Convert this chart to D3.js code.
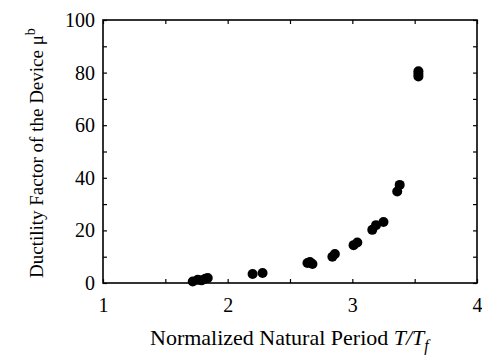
<!DOCTYPE html>
<html>
<head>
<meta charset="utf-8">
<script src="https://cdn.jsdelivr.net/npm/d3@7"></script>
<style>
body { margin: 0; background: #fff; }
svg text { font-family: "Liberation Serif", "Times New Roman", Times, Tinos, "DejaVu Serif", serif; fill: #000; }
</style>
</head>
<body>
<svg></svg>
<script>
// normalized period T/Tf and ductility factor of the device
const periods = [1.72, 1.76, 1.79, 1.82, 1.84, 2.20, 2.28, 2.64, 2.66, 2.68, 2.84, 2.86, 3.01, 3.04, 3.16, 3.19, 3.25, 3.36, 3.38, 3.53, 3.53, 3.53]
const ductility = [0.6, 1.2, 1.0, 1.6, 1.9, 3.4, 3.8, 7.6, 8.0, 7.2, 10.0, 11.0, 14.4, 15.4, 20.2, 22.0, 23.2, 34.8, 37.3, 80.5, 79.5, 78.5]

const xTicks = [1, 1.5, 2, 2.5, 3, 3.5, 4]
const yTicks = [0, 10, 20, 30, 40, 50, 60, 70, 80, 90, 100]

const serif = "'Liberation Serif', 'Times New Roman', Times, Tinos, 'DejaVu Serif', serif"

const svg = d3.select("svg")
svg
	.attr("width", 482)
	.attr("height", 358)

const plotL = 103, plotR = 477, plotT = 20, plotB = 283

const scaleX = d3.scaleLinear()
	.domain([1, 4])
	.range([plotL, plotR])

const scaleY = d3.scaleLinear()
	.domain([0, 100])
	.range([plotB, plotT])

// ticks point inward on all four sides
const xLabel = d => Number.isInteger(d) ? d : ""
const yLabel = d => d % 20 === 0 ? d : ""

const axes = [
	{ axis: d3.axisBottom(scaleX).tickValues(xTicks).tickFormat(xLabel).tickSize(-4).tickPadding(15), at: `translate(0,${plotB})` },
	{ axis: d3.axisTop(scaleX).tickValues(xTicks).tickFormat("").tickSize(-4), at: `translate(0,${plotT})` },
	{ axis: d3.axisLeft(scaleY).tickValues(yTicks).tickFormat(yLabel).tickSize(-4).tickPadding(8), at: `translate(${plotL},0)` },
	{ axis: d3.axisRight(scaleY).tickValues(yTicks).tickFormat("").tickSize(-4), at: `translate(${plotR},0)` }
]

axes.forEach((a) => {
	const g = svg.append("g")
		.attr("transform", a.at)
		.call(a.axis)
	g.attr("font-family", serif).attr("font-size", 20)
	g.select(".domain").remove()
	g.selectAll("line").attr("stroke", "#000").attr("stroke-width", 1.2)
	g.selectAll("text")
		.style("font-family", serif)
		.style("font-size", "20px")
		.attr("fill", "#000")
})

svg.append("rect")
	.attr("x", plotL)
	.attr("y", plotT)
	.attr("width", plotR - plotL)
	.attr("height", plotB - plotT)
	.attr("fill", "none")
	.attr("stroke", "#000")
	.attr("stroke-width", 1.6)

svg.selectAll("circle.pt")
	.data(periods)
	.enter()
	.append("circle")
	.attr("class", "pt")
	.attr("cx", (d, i) => scaleX(d))
	.attr("cy", (d, i) => scaleY(ductility[i]))
	.attr("r", 5)
	.attr("fill", "#000")

// x title
const xt = svg.append("text")
	.attr("x", 150)
	.attr("y", 345)
	.style("font-family", serif)
	.style("font-size", "22px")
xt.append("tspan").text("Normalized Natural Period ")
xt.append("tspan").attr("font-style", "italic").text("T/T")
xt.append("tspan").attr("font-style", "italic").style("font-size", "16px").attr("dy", 6).text("f")

// y title
const yt = svg.append("text")
	.attr("transform", "translate(43,278) rotate(-90)")
	.style("font-family", serif)
	.style("font-size", "19px")
yt.append("tspan").text("Ductility Factor of the Device  \u03bc")
yt.append("tspan").style("font-size", "14px").attr("dy", -8).text("b")
</script>
</body>
</html>
